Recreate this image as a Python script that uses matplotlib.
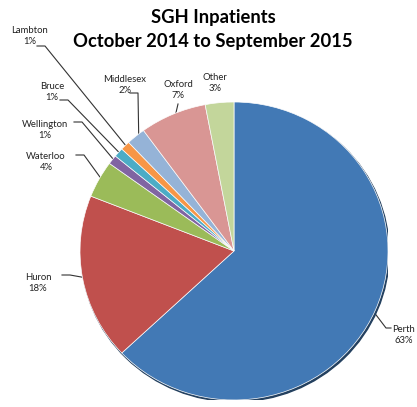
import numpy as np
import matplotlib.pyplot as plt
from matplotlib.patches import Ellipse

# Data
names = ["Perth", "Huron", "Waterloo", "Wellington", "Bruce", "Lambton",
         "Middlesex", "Oxford", "Other"]
shares = [63, 18, 4, 1, 1, 1, 2, 7, 3]
colors = ["#4279b5", "#c0504d", "#9bbb59", "#8064a2", "#4bacc6", "#f79646",
          "#95b3d7", "#d99694", "#c3d69b"]

# layout (pixels, y from top): label centre, elbow of leader line
label_pos = [(404, 335), (38, 283), (46, 162), (45, 130), (52, 92), (30, 36),
             (125, 85), (178, 90), (215, 83)]
elbows = [(386, 328), (70, 275), (84, 155), (82, 122), (68, 100), (45, 46),
          (138, 93), (178, 104), None]

W, H = 417, 407
cx, cy, rx, ry = 234, 251, 154, 149  # pie centre / radii in pixels (from top)

fig = plt.figure(figsize=(W / 100, H / 100), dpi=100)

# overlay axes in pixel units for labels and leader lines
ov = fig.add_axes([0, 0, 1, 1])
ov.set_xlim(0, W)
ov.set_ylim(0, H)
ov.axis("off")

# pie axes, slightly wider than tall like the original
ax = fig.add_axes([(cx - rx) / W, (H - cy - ry) / H, 2 * rx / W, 2 * ry / H])
ax.add_patch(Ellipse((0.008, -0.012), 2, 2, color="#23405f", zorder=0))
wedges, _ = ax.pie(shares, colors=colors, startangle=90, counterclock=False,
                   radius=1, frame=False,
                   wedgeprops=dict(linewidth=0.5, edgecolor="white"))
ax.set_xlim(-1, 1)
ax.set_ylim(-1, 1)
ax.set_aspect("auto")
ax.axis("off")

for w, name, s, (lx, ly), el in zip(wedges, names, shares, label_pos, elbows):
    ov.text(lx, H - ly, f"{name}\n{s}%", ha="center", va="center",
            fontsize=6.8, color="#222222", linespacing=1.4, family="Lato")
    if el is None:
        continue
    mid = np.deg2rad((w.theta1 + w.theta2) / 2)
    px = cx + rx * 0.97 * np.cos(mid)
    py = (H - cy) + ry * 0.97 * np.sin(mid)
    ex, ey = el
    if name == "Oxford":
        ov.plot([ex, px], [H - ey, py], color="#333333", lw=0.8)
        continue
    sx = ex - 8 if ex < cx else ex + 5
    ov.plot([sx, ex, px], [H - ey, H - ey, py], color="#333333", lw=0.8)

fig.text(213 / W, 1 - 17 / H, "SGH Inpatients", ha="center", va="center",
         fontsize=13.2, fontweight="bold", family="Lato")
fig.text(213 / W, 1 - 41 / H, "October 2014 to September 2015", ha="center",
         va="center", fontsize=13.2, fontweight="bold", family="Lato")

fig.savefig("out.png", dpi=100)
